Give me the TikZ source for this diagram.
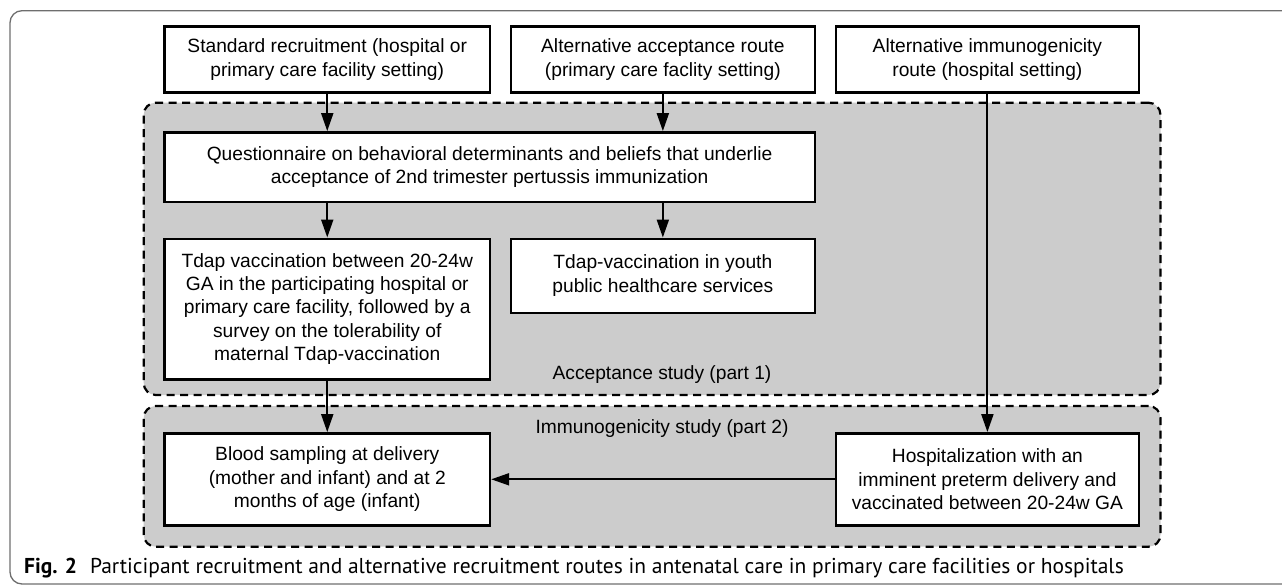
\documentclass[tikz,border=0pt]{standalone}
\usepackage{fontspec}
\setmainfont{Liberation Sans}
\newfontfamily\capfont{PT Sans}
\usetikzlibrary{arrows.meta}
\definecolor{regiongray}{RGB}{204,204,204}
\definecolor{framegray}{RGB}{110,110,110}
\begin{document}
\begin{tikzpicture}[x=1pt,y=-1pt,
  box/.style={draw=black, line width=2.4pt, fill=white, align=center, inner sep=0pt, font=\fontsize{19.2}{23.4}\selectfont},
  region/.style={draw=black, fill=regiongray, line width=2.2pt, dash pattern=on 8pt off 5.5pt, rounded corners=12pt, inner sep=0pt},
  arr/.style={line width=2pt, -{Triangle[length=18pt,width=12pt]}},
  lbl/.style={font=\fontsize{19.2}{23.4}\selectfont, inner sep=0pt}]
\useasboundingbox (0,0) rectangle (1282,586);
\clip (0,0) rectangle (1282,586);
\draw[framegray, line width=1.3pt, rounded corners=12pt] (1300,10.7) -- (10,10.7) -- (10,584) -- (1300,584);
% regions
\node[region, minimum width=1016.8pt, minimum height=292.3pt] (acc) at (652.1,248.85) {};
\node[region, minimum width=1016.8pt, minimum height=140.7pt] (imm) at (652.1,476.35) {};
\node[lbl] (acclbl) at (662,375) {Acceptance study (part 1)};
\node[lbl] (immlbl) at (662,428.3) {Immunogenicity study (part 2)};
% boxes
\node[box, minimum width=325.5pt, minimum height=65.6pt] (A) at (327.25,59.5) {Standard recruitment (hospital or\\primary care facility setting)};
\node[box, minimum width=303.7pt, minimum height=65.6pt] (B) at (662.85,59.5) {Alternative acceptance route\\(primary care faclity setting)};
\node[box, minimum width=302.8pt, minimum height=65.6pt] (C) at (987.4,59.5) {Alternative immunogenicity\\route (hospital setting)};
\node[box, minimum width=650.2pt, minimum height=69.4pt] (Q) at (489.6,167) {Questionnaire on behavioral determinants and beliefs that underlie\\acceptance of 2nd trimester pertussis immunization};
\node[box, minimum width=325.5pt, minimum height=140.6pt] (T) at (327.25,309) {Tdap vaccination between 20-24w\\GA in the participating hospital or\\primary care facility, followed by a\\survey on the tolerability of\\maternal Tdap-vaccination};
\node[box, minimum width=303.7pt, minimum height=74pt] (Y) at (662.85,275.7) {Tdap-vaccination in youth\\public healthcare services};
\node[box, minimum width=325.5pt, minimum height=92pt] (BL) at (327.25,479.3) {Blood sampling at delivery\\(mother and infant) and at 2\\months of age (infant)};
\node[box, minimum width=302.8pt, minimum height=92pt] (H) at (987.4,479.3) {Hospitalization with an\\imminent preterm delivery and\\vaccinated between 20-24w GA};
% connectors
\draw[arr] (A.south) -- (A.south |- Q.north);
\draw[arr] (B.south) -- (B.south |- Q.north);
\draw[arr] (T.north |- Q.south) -- (T.north);
\draw[arr] (Y.north |- Q.south) -- (Y.north);
\draw[arr] (T.south) -- (BL.north);
\draw[arr] (C.south) -- (H.north);
\draw[arr] (H.west) -- (BL.east);
% caption
\node[anchor=base west, inner sep=0pt, font=\capfont\fontsize{21.5}{25}\selectfont] (cap) at (24,573) {\textbf{Fig. 2}\hspace{0.6em}Participant recruitment and alternative recruitment routes in antenatal care in primary care facilities or hospitals};
\end{tikzpicture}
\end{document}
